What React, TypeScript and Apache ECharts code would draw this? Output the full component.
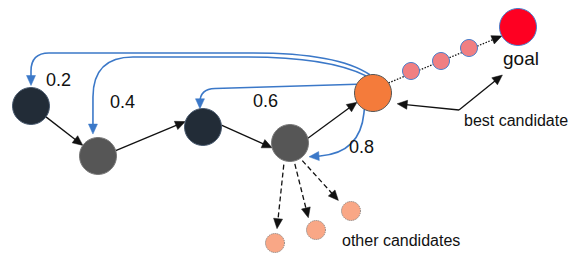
import React, { useEffect, useRef } from 'react';
import * as echarts from 'echarts';

// ---- nodes (diagram positions in a 575 x 254 space) ----
const nodeNames = ['n1', 'n2', 'n3', 'n4', 'best', 'p1', 'p2', 'p3', 'goal', 'o1', 'o2', 'o3', 'hint'];
const nodeX = [31, 98, 203, 290, 373, 411, 441, 469, 518, 275, 316, 351, 459];
const nodeY = [106, 156, 127, 143, 93, 71, 61, 48, 27, 243, 230, 211, 110];
const nodeKind = ['visited', 'expanded', 'visited', 'expanded', 'best', 'path', 'path', 'path', 'goal', 'other', 'other', 'other', 'hint'];

// ---- straight edges: from node, to node, port angles (deg), gaps ----
const edgeFrom = [0, 1, 2, 3, 4, 3, 3, 3, 12, 12];
const edgeTo = [1, 2, 3, 4, 8, 9, 10, 11, 4, 8];
const edgeFromAngle = [36, -17, -6, -15, -33, 106, 77, 55, 0, 0];
const edgeToAngle = [-145, -163, 165, 150, 151, -82, -122, -140, 24, 108];
const edgeFromGap = [0, 0, 0, 0, 0, 4, 3, 3, 0, 0];
const edgeToGap = [0, 0, 0, 0, 0, 5, 5, 7, 8, 32];
const edgeKind = ['solid', 'solid', 'solid', 'solid', 'dotted', 'dashed', 'dashed', 'dashed', 'solid', 'solid'];

// ---- curved (blue) back edges ----
const backFrom = [4, 4, 4, 4];
const backTo = [0, 1, 2, 3];
const backFromAngle = [-100, -112, -152, 118];
const backToAngle = [-90, -103, -99.5, 36];
const backToGap = [2, 4, 0, 5];
const backVia: number[][][] = [
  [[338, 53], [31, 53]],
  [[328, 57], [93, 57]],
  [[200, 89]],
  [[360, 153]],
];
const backCorner: number[][] = [[85, 18], [80, 40], [15], [40]];
const backWeights = ['0.2', '0.4', '0.6', '0.8'];

// ---- annotations ----
const annText = [...backWeights, 'goal', 'best candidate', 'other candidates'];
const annX = [46, 110, 253, 349, 521, 464, 342];
const annY = [80, 102, 101, 147, 58, 120, 240];
const annAlign = ['left', 'left', 'left', 'left', 'center', 'left', 'left'];
const annSize = [18, 18, 18, 18, 19, 16, 16];

const kindStyle: Record<string, any> = {
  visited: { size: 37, color: '#222c37', border: '#4a5b70', borderType: 'solid' },
  expanded: { size: 37, color: '#565656', border: '#7a7a7a', borderType: 'solid' },
  best: { size: 37, color: '#f47b3b', border: '#555555', borderType: 'solid' },
  path: { size: 17, color: '#f07f82', border: '#4a7fcc', borderType: 'solid' },
  goal: { size: 37, color: '#fe0022', border: '#4a7fcc', borderType: 'solid' },
  other: { size: 19, color: '#f9a786', border: '#777777', borderType: 'dotted' },
  hint: { size: 0, color: 'transparent', border: 'transparent', borderType: 'solid' },
};

const FONT = '"Liberation Sans", Arial, sans-serif';
const BLUE = '#3b78c8';
const INK = '#111111';

const radius = (i: number) => kindStyle[nodeKind[i]].size / 2;

function port(api: any, node: number, angle: number, gap: number) {
  const c = api.coord([nodeX[node], nodeY[node]]);
  const r = radius(node) + gap;
  const a = (angle * Math.PI) / 180;
  return [c[0] + r * Math.cos(a), c[1] + r * Math.sin(a)];
}

function arrowHead(tip: number[], from: number[], len: number, half: number, color: string) {
  const dx = tip[0] - from[0];
  const dy = tip[1] - from[1];
  const d = Math.hypot(dx, dy) || 1;
  const ux = dx / d;
  const uy = dy / d;
  const bx = tip[0] - ux * len;
  const by = tip[1] - uy * len;
  return {
    type: 'polygon',
    shape: { points: [tip, [bx - uy * half, by + ux * half], [bx + uy * half, by - ux * half]] },
    style: { fill: color, stroke: color, lineWidth: 0.5 },
  };
}

function shorten(tip: number[], from: number[], by: number) {
  const dx = tip[0] - from[0];
  const dy = tip[1] - from[1];
  const d = Math.hypot(dx, dy) || 1;
  return [tip[0] - (dx / d) * by, tip[1] - (dy / d) * by];
}

export default function App() {
  const ref = useRef<HTMLDivElement>(null);

  useEffect(() => {
    if (!ref.current) return;
    const chart = echarts.init(ref.current, undefined, { renderer: 'svg' });

    const nodeData = nodeNames.map((name, i) => {
      const s = kindStyle[nodeKind[i]];
      return {
        name,
        value: [nodeX[i], nodeY[i]],
        symbolSize: s.size,
        itemStyle: {
          color: s.color,
          borderColor: s.border,
          borderWidth: nodeKind[i] === 'hint' ? 0 : 1,
          borderType: s.borderType,
          opacity: 1,
        },
      };
    });

    const straightData = edgeFrom.map((f, i) => [nodeX[f], nodeY[f], i]);
    const backData = backFrom.map((f, i) => [nodeX[f], nodeY[f], i]);
    const annData = annText.map((_, i) => [annX[i], annY[i], i]);

    const option: any = {
      animation: false,
      backgroundColor: '#ffffff',
      grid: { left: 0, right: 0, top: 0, bottom: 0, containLabel: false },
      xAxis: { type: 'value', min: 0, max: 575, show: false },
      yAxis: { type: 'value', min: 0, max: 254, inverse: true, show: false },
      series: [
        {
          type: 'custom',
          coordinateSystem: 'cartesian2d',
          clip: false,
          silent: true,
          z: 1,
          encode: { x: 0, y: 1 },
          data: straightData,
          renderItem: (params: any, api: any) => {
            const i = params.dataIndex;
            const kind = edgeKind[i];
            const a = port(api, edgeFrom[i], edgeFromAngle[i], edgeFromGap[i]);
            const b = port(api, edgeTo[i], edgeToAngle[i], edgeToGap[i]);
            const len = 10;
            const half = 4.5;
            const end = shorten(b, a, len * 0.6);
            const dash = kind === 'dotted' ? [1.5, 1.5] : kind === 'dashed' ? [5, 3] : undefined;
            return {
              type: 'group',
              children: [
                {
                  type: 'line',
                  shape: { x1: a[0], y1: a[1], x2: end[0], y2: end[1] },
                  style: { stroke: INK, lineWidth: 1.3, lineDash: dash, fill: 'none' },
                },
                arrowHead(b, a, len, half, INK),
              ],
            };
          },
        },
        {
          type: 'custom',
          coordinateSystem: 'cartesian2d',
          clip: false,
          silent: true,
          z: 1,
          encode: { x: 0, y: 1 },
          data: backData,
          renderItem: (params: any, api: any) => {
            const i = params.dataIndex;
            const start = port(api, backFrom[i], backFromAngle[i], 0);
            const tip = port(api, backTo[i], backToAngle[i], backToGap[i]);
            const via = backVia[i].map((p) => api.coord(p));
            const pts = [start, ...via, tip];
            const last = pts[pts.length - 2];
            const end = shorten(tip, last, 5);
            pts[pts.length - 1] = end;
            let d = `M${pts[0][0]},${pts[0][1]}`;
            for (let k = 1; k < pts.length - 1; k++) {
              const p0 = pts[k - 1];
              const p1 = pts[k];
              const p2 = pts[k + 1];
              const l1 = Math.hypot(p1[0] - p0[0], p1[1] - p0[1]);
              const l2 = Math.hypot(p2[0] - p1[0], p2[1] - p1[1]);
              const want = backCorner[i][k - 1];
              const rIn = Math.min(want, k === 1 ? l1 : l1 * 0.5);
              const rOut = Math.min(want, k === pts.length - 2 ? l2 * 0.9 : l2 * 0.5);
              const ax = p1[0] - ((p1[0] - p0[0]) / l1) * rIn;
              const ay = p1[1] - ((p1[1] - p0[1]) / l1) * rIn;
              const bx = p1[0] + ((p2[0] - p1[0]) / l2) * rOut;
              const by = p1[1] + ((p2[1] - p1[1]) / l2) * rOut;
              d += ` L${ax},${ay} Q${p1[0]},${p1[1]} ${bx},${by}`;
            }
            d += ` L${end[0]},${end[1]}`;
            return {
              type: 'group',
              children: [
                {
                  type: 'path',
                  shape: { pathData: d },
                  style: { stroke: BLUE, lineWidth: 1.6, fill: 'none' },
                },
                arrowHead(tip, last, 10, 4.5, BLUE),
              ],
            };
          },
        },
        {
          type: 'scatter',
          symbol: 'circle',
          silent: true,
          z: 2,
          data: nodeData,
        },
        {
          type: 'custom',
          coordinateSystem: 'cartesian2d',
          clip: false,
          silent: true,
          z: 3,
          encode: { x: 0, y: 1 },
          data: annData,
          renderItem: (params: any, api: any) => {
            const i = params.dataIndex;
            const p = api.coord([annX[i], annY[i]]);
            return {
              type: 'text',
              x: p[0],
              y: p[1],
              style: {
                text: annText[i],
                fill: INK,
                font: `${annSize[i]}px ${FONT}`,
                align: annAlign[i],
                verticalAlign: 'middle',
              },
            };
          },
        },
      ],
    };

    chart.setOption(option);
    return () => chart.dispose();
  }, []);

  return (
    <div
      ref={ref}
      style={{ position: 'fixed', left: 0, top: 0, width: 575, height: 254, background: '#ffffff' }}
    />
  );
}
